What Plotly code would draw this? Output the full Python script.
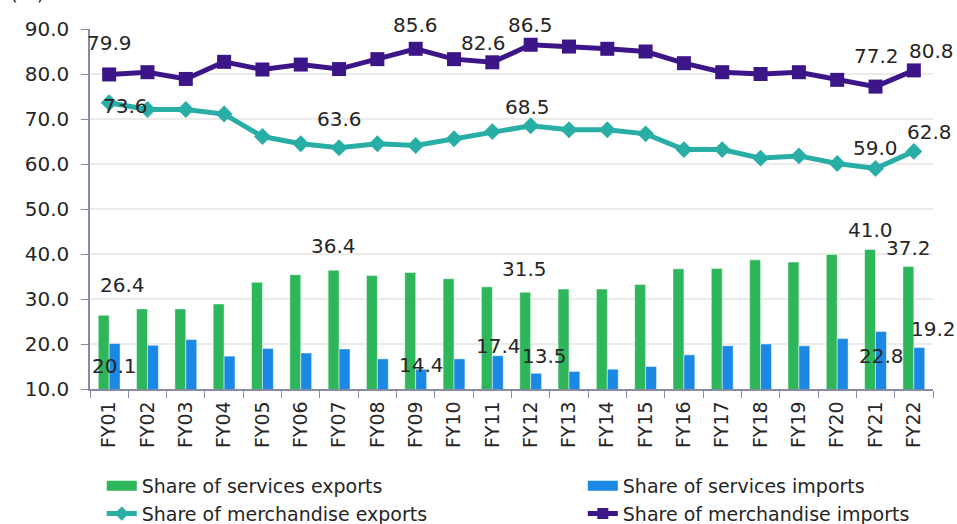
import plotly.graph_objects as go

categories = ["FY01", "FY02", "FY03", "FY04", "FY05", "FY06", "FY07", "FY08", "FY09", "FY10", "FY11",
              "FY12", "FY13", "FY14", "FY15", "FY16", "FY17", "FY18", "FY19", "FY20", "FY21", "FY22"]

services_exports = [26.4, 27.8, 27.8, 28.9, 33.7, 35.4, 36.4, 35.2, 35.9, 34.5, 32.7,
                    31.5, 32.2, 32.2, 33.2, 36.7, 36.8, 38.7, 38.2, 39.9, 41.0, 37.2]
services_imports = [20.1, 19.7, 21.0, 17.3, 19.0, 18.0, 18.9, 16.7, 14.4, 16.7, 17.4,
                    13.5, 13.9, 14.4, 15.0, 17.6, 19.6, 20.0, 19.6, 21.2, 22.8, 19.2]
merch_exports = [73.6, 72.1, 72.1, 71.1, 66.1, 64.5, 63.6, 64.5, 64.1, 65.6, 67.2,
                 68.5, 67.6, 67.6, 66.7, 63.2, 63.2, 61.3, 61.8, 60.1, 59.0, 62.8]
merch_imports = [79.9, 80.4, 78.9, 82.7, 81.0, 82.1, 81.1, 83.3, 85.6, 83.3, 82.6,
                 86.5, 86.1, 85.6, 85.0, 82.4, 80.4, 80.0, 80.4, 78.7, 77.2, 80.8]

y_ticks = [10, 20, 30, 40, 50, 60, 70, 80, 90]

# labelled points: (category index, xshift px, yshift px)
labels_services_exports = [(0, 13, 30), (6, -6, 24), (11, -6, 23), (20, -5, 20), (21, -5, 19)]
labels_services_imports = [(0, 5, -22), (8, 6, 4), (10, 6, 10), (11, 14, 17), (20, 6, -25), (21, 20, 19)]
labels_merch_exports = [(0, 16, -3), (6, 0, 29), (11, -3, 19), (20, 0, 21), (21, 16, 19)]
labels_merch_imports = [(0, 0, 31), (8, 0, 24), (10, -9, 19), (11, 0, 20), (20, 1, 31), (21, 18, 19)]

GREEN = "#2DB65A"
BLUE = "#1B88E4"
TEAL = "#29AEA6"
PURPLE = "#3C1589"
AXIS = "#8A8AA5"
FONT = "DejaVu Sans"

fig = go.Figure()
fig.add_trace(go.Bar(x=categories, y=services_exports, name="Share of services exports",
                     marker=dict(color=GREEN, line=dict(color="rgba(255,255,255,0.6)", width=0.8)),
                     showlegend=False))
fig.add_trace(go.Bar(x=categories, y=services_imports, name="Share of services imports",
                     marker=dict(color=BLUE, line=dict(color="rgba(255,255,255,0.6)", width=0.8)),
                     showlegend=False))
fig.add_trace(go.Scatter(x=categories, y=merch_exports, name="Share of merchandise exports",
                         mode="lines+markers", line=dict(color=TEAL, width=5),
                         marker=dict(symbol="diamond", size=13, color=TEAL),
                         showlegend=False))
fig.add_trace(go.Scatter(x=categories, y=merch_imports, name="Share of merchandise imports",
                         mode="lines+markers", line=dict(color=PURPLE, width=5),
                         marker=dict(symbol="square", size=14, color=PURPLE),
                         showlegend=False))

# legend entries (wide swatches like the original)
fig.add_trace(go.Scatter(x=[None], y=[None], mode="lines", name="Share of services exports",
                         line=dict(color=GREEN, width=12), legend="legend", hoverinfo="skip"))
fig.add_trace(go.Scatter(x=[None], y=[None], mode="lines+markers", name="Share of merchandise exports",
                         line=dict(color=TEAL, width=5), marker=dict(symbol="diamond", size=11, color=TEAL),
                         legend="legend", hoverinfo="skip"))
fig.add_trace(go.Scatter(x=[None], y=[None], mode="lines", name="Share of services imports",
                         line=dict(color=BLUE, width=12), legend="legend2", hoverinfo="skip"))
fig.add_trace(go.Scatter(x=[None], y=[None], mode="lines+markers", name="Share of merchandise imports",
                         line=dict(color=PURPLE, width=5), marker=dict(symbol="square", size=11, color=PURPLE),
                         legend="legend2", hoverinfo="skip"))

annotations = []
for series, labs in [(services_exports, labels_services_exports),
                     (services_imports, labels_services_imports),
                     (merch_exports, labels_merch_exports),
                     (merch_imports, labels_merch_imports)]:
    for idx, dx, dy in labs:
        annotations.append(dict(x=categories[idx], y=series[idx], xref="x", yref="y",
                                text=f"{series[idx]:.1f}", showarrow=False,
                                xanchor="center", yanchor="middle",
                                xshift=dx, yshift=dy,
                                font=dict(family=FONT, size=20, color="#262626")))
annotations.append(dict(x=-0.074, y=1, xref="paper", yref="paper", text="(%)", showarrow=False,
                        xanchor="center", yanchor="bottom", yshift=22,
                        font=dict(family=FONT, size=20, color="#262626")))

legend_top = 1 - 467 / 524
fig.update_layout(
    width=957, height=524,
    margin=dict(l=90, r=24, t=29, b=135, autoexpand=False),
    paper_bgcolor="white", plot_bgcolor="white",
    barmode="group", bargap=0.43, bargroupgap=0,
    font=dict(family=FONT, size=19, color="#262626"),
    annotations=annotations,
    legend=dict(x=0.1063, y=legend_top, xref="container", yref="container", xanchor="left", yanchor="top",
                orientation="v", font=dict(family=FONT, size=19, color="#262626"),
                bgcolor="rgba(0,0,0,0)", tracegroupgap=0),
    legend2=dict(x=0.609, y=legend_top, xref="container", yref="container", xanchor="left", yanchor="top",
                 orientation="v", font=dict(family=FONT, size=19, color="#262626"),
                 bgcolor="rgba(0,0,0,0)", tracegroupgap=0),
)

fig.update_xaxes(type="category", range=[-0.5, len(categories) - 0.5],
                 showline=True, linecolor=AXIS, linewidth=1.5,
                 ticks="outside", tickson="boundaries", ticklen=7, tickcolor=AXIS,
                 tickangle=-90, tickfont=dict(family=FONT, size=19, color="#262626"),
                 ticklabelstandoff=3, showgrid=False)
fig.update_yaxes(range=[10, 90], tickvals=y_ticks, ticktext=[f"{v:.1f}" for v in y_ticks],
                 showline=True, linecolor=AXIS, linewidth=1.5, ticks="outside", ticklen=7,
                 tickcolor=AXIS, showgrid=True, gridcolor="#EBEBEB", gridwidth=1.5,
                 zeroline=False, ticklabelstandoff=8,
                 tickfont=dict(family=FONT, size=20, color="#262626"))

fig.write_html("out.html", config={"displayModeBar": False},
               post_script="document.body.style.margin='0';")
